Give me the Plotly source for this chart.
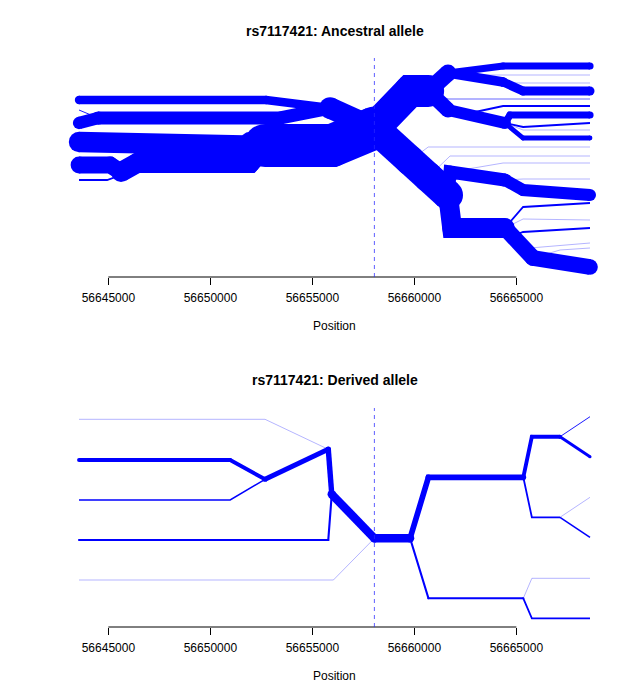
import plotly.graph_objects as go

# ---------------- data ----------------
tick_positions = [56645000, 56650000, 56655000, 56660000, 56665000]
tick_labels = [str(t) for t in tick_positions]
core_position = 56658040          # focal SNP rs7117421
x_range = [56642560, 56669610]
hap_width = 0.3                   # line width (px) per haplotype

# Ancestral allele tree: each branch = positions (bp), vertical level, haplotype count
anc_x = [
    [56643560, 56652730, 56655870],            # A1
    [56644500, 56653420, 56655870],            # A2
    [56643560, 56644500],                      # A2 main
    [56643560, 56644500],                      # A2 stub
    [56655870, 56658040],                      # A12
    [56643560, 56651950, 56652680],            # A3
    [56643560, 56645080, 56645620],            # A4
    [56643560, 56644940, 56645620],            # A5
    [56645620, 56646410, 56651950, 56652680],  # A45
    [56652680, 56655970, 56658040],            # trunk
    [56658040, 56659790, 56660680],            # U
    [56660680, 56661650],                      # Ua
    [56660680, 56661650],                      # Ub
    [56661650, 56664350, 56668610],            # Ua1
    [56661650, 56663470, 56668610],            # Ua2
    [56661650, 56664350],                      # Ua3
    [56664350, 56665330, 56668610],            # Ua3a
    [56664350, 56665080, 56668610],            # Ua3b
    [56660680, 56661650, 56668610],            # Ub0
    [56661650, 56662980, 56664350, 56668610],  # Ub1
    [56661650, 56664440],                      # Ub2
    [56664440, 56664690, 56668610],            # Ub2a
    [56664440, 56665330, 56668610],            # Ub2b
    [56664440, 56665330, 56668610],            # Ub2c
    [56664440, 56665330, 56668610],            # Ub2d
    [56658040, 56659790, 56660680, 56661650],  # D
    [56659790, 56660680, 56668610],            # F1
    [56660680, 56661750, 56668610],            # F2
    [56661650, 56661750, 56664440],            # Da
    [56661750, 56664350, 56668610],            # F3
    [56664440, 56665330, 56668610],            # Da1
    [56664440, 56665330, 56668610],            # F4
    [56661650, 56661850, 56664440],            # Db
    [56664440, 56665330, 56668610],            # Db1
    [56664440, 56665330, 56668610],            # Db2
    [56664440, 56664690, 56665330, 56668610],  # Db3
    [56664440, 56665820],                      # Db4
    [56665820, 56668610],                      # Db4a
    [56665820, 56667140, 56668610],            # Db4b
    [56664440, 56665670, 56668610],            # Db5
]
anc_y = [
    [100, 100, 108], [118, 118, 108], [123, 118], [110, 118], [108, 128],
    [142, 142, 146], [165, 165, 172], [180, 180, 175], [172, 163, 163, 146],
    [145.5, 145.5, 128],
    [128, 91, 91], [91, 73], [91, 110],
    [73, 66, 66], [73, 75, 75], [73, 82], [82, 91, 91], [82, 83, 83],
    [91, 99, 99], [110, 112, 106, 106], [110, 123],
    [123, 115, 115], [123, 127, 123], [123, 138, 138], [123, 130, 130],
    [128, 160.5, 177, 195], [160.5, 147, 147], [177, 156, 156],
    [195, 172, 180], [172, 163, 163], [180, 190, 195], [180, 179, 179],
    [195, 228, 228], [228, 207, 203], [228, 219, 220], [228, 237, 232, 228],
    [228, 258], [258, 267], [258, 250, 248], [228, 248, 243],
]
anc_n = [28, 44, 41, 3, 72, 68, 56, 6, 66, 143,
         106, 56, 50, 24, 1, 32, 30, 1, 2, 6, 40, 24, 6, 16, 1,
         100, 1, 1, 44, 1, 40, 1, 66, 6, 1, 6, 54, 52, 1, 1]

# Derived allele tree
der_x = [
    [56658040, 56655950],                      # B1
    [56655950, 56655780],                      # B2
    [56655950, 56655780, 56643560],            # B3
    [56658040, 56656030, 56643560],            # B4
    [56655780, 56652680],                      # B5
    [56655780, 56652680, 56643560],            # B6
    [56652680, 56650970, 56643560],            # B7
    [56652680, 56650970, 56643560],            # B8
    [56658040, 56659790],                      # B9
    [56659790, 56660690, 56665340],            # B10
    [56665340, 56665760, 56667140],            # B11
    [56667140, 56668610],                      # B12
    [56667140, 56668610],                      # B13
    [56665340, 56665760, 56667140],            # B14
    [56667140, 56668610],                      # B15
    [56667140, 56668610],                      # B16
    [56659790, 56660690, 56665340],            # B17
    [56665340, 56665760, 56668610],            # B18
    [56665340, 56665760, 56668610],            # B19
]
der_y = [
    [538.3, 494.3], [494.3, 449.3], [494.3, 540, 540], [538.3, 580, 580],
    [449.3, 479.3], [449.3, 419.3, 419.3], [479.3, 460, 460], [479.3, 500, 500],
    [538.3, 538.3], [538.3, 477.3, 477.3], [477.3, 436.7, 436.7],
    [436.7, 456.7], [436.7, 416.7], [477.3, 517.3, 517.3],
    [517.3, 537.3], [517.3, 497.3], [538.3, 598.3, 598.3],
    [598.3, 618.3, 618.3], [598.3, 578.3, 578.3],
]
der_n = [28, 18, 7, 1, 17, 1, 13, 5, 28, 19, 13, 10, 3, 6, 5, 1, 7, 6, 1]

titles = ["rs7117421: Ancestral allele", "rs7117421: Derived allele"]
x_title = "Position"

# ---------------- figure ----------------
BLUE = "#0000FF"
FONT = "Liberation Sans, Arial, Helvetica, sans-serif"
fig = go.Figure()


def add_tree(xs, ys, ns, xa, ya):
    order = sorted(range(len(ns)), key=lambda i: ns[i])
    for i in order:
        w = ns[i] * hap_width
        fig.add_trace(go.Scatter(
            x=xs[i], y=ys[i], xaxis=xa, yaxis=ya,
            mode="lines+markers" if w >= 2 else "lines",
            line=dict(color=BLUE, width=w),
            marker=dict(size=w, color=BLUE, line=dict(width=0)),
            hoverinfo="skip", showlegend=False))


add_tree(anc_x, anc_y, anc_n, "x", "y")
add_tree(der_x, der_y, der_n, "x2", "y2")

xdom = [58.6 / 640, 610.4 / 640]
axis_common = dict(range=x_range, tickvals=tick_positions, ticktext=tick_labels,
                   ticks="outside", ticklen=7, tickwidth=1, tickcolor="#000",
                   showline=False, showgrid=False, zeroline=False,
                   ticklabelstandoff=3,
                   tickfont=dict(family=FONT, size=12, color="#000"))
fig.update_layout(
    width=640, height=700, margin=dict(l=0, r=0, t=0, b=0),
    paper_bgcolor="white", plot_bgcolor="white", showlegend=False,
    xaxis=dict(domain=xdom, anchor="y", **axis_common),
    yaxis=dict(domain=[1 - 277 / 700, 1 - 58 / 700], range=[277, 58], visible=False, anchor="x"),
    xaxis2=dict(domain=xdom, anchor="y2", **axis_common),
    yaxis2=dict(domain=[1 - 627 / 700, 1 - 408 / 700], range=[627, 408], visible=False, anchor="x2"),
)

shapes = []
for xa, ya in (("x", "y"), ("x2", "y2")):
    shapes.append(dict(type="line", xref=xa, yref=ya + " domain",
                       x0=tick_positions[0], x1=tick_positions[-1], y0=0, y1=0,
                       line=dict(color="#000", width=1)))
    shapes.append(dict(type="line", xref=xa, yref=ya + " domain",
                       x0=core_position, x1=core_position, y0=0, y1=1,
                       line=dict(color="rgba(40,40,255,0.75)", width=1, dash="4px,4px")))
fig.update_layout(shapes=shapes)

cx = 334.5 / 640
ann = []
for t, ty, py in ((titles[0], 31, 326), (titles[1], 380, 676)):
    ann.append(dict(text="<b>%s</b>" % t, x=cx, y=1 - ty / 700, xref="paper", yref="paper",
                    showarrow=False, xanchor="center", yanchor="middle",
                    font=dict(family=FONT, size=14, color="#000")))
    ann.append(dict(text=x_title, x=cx, y=1 - py / 700, xref="paper", yref="paper",
                    showarrow=False, xanchor="center", yanchor="middle",
                    font=dict(family=FONT, size=12, color="#000")))
fig.update_layout(annotations=ann)

fig.write_html("out.html")
